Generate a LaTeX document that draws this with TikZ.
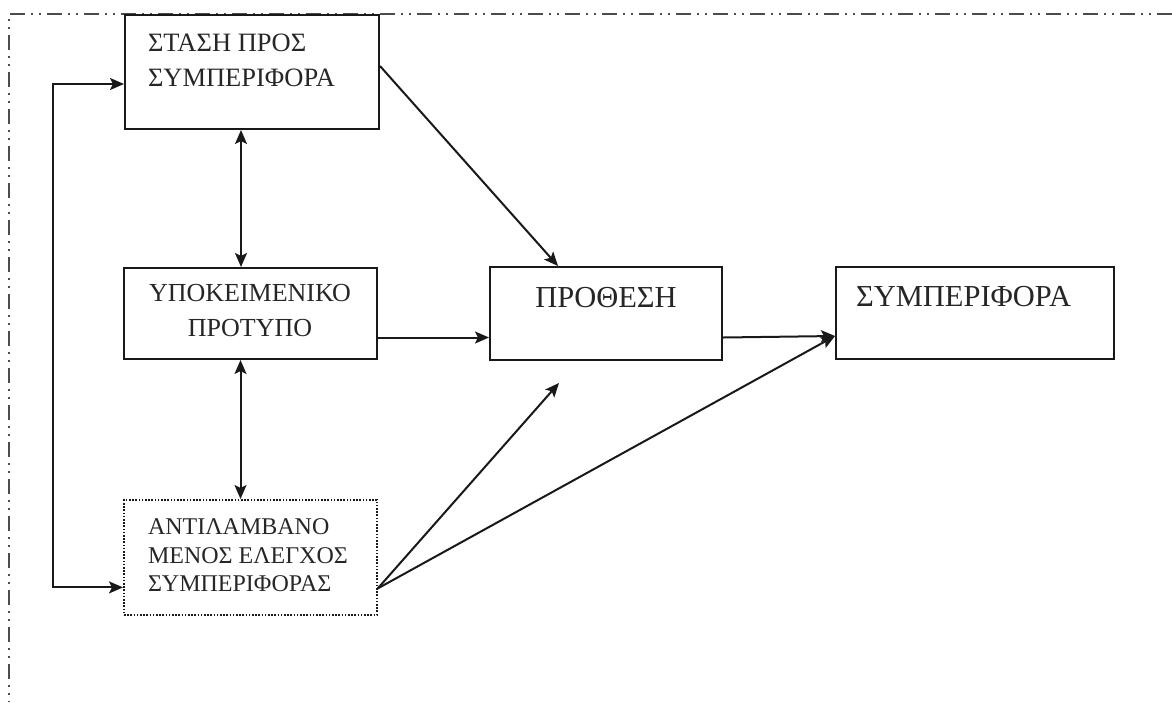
\documentclass[tikz,border=0pt]{standalone}
\usepackage{fontspec}
\setmainfont{Liberation Serif}
\usetikzlibrary{arrows.meta}

\begin{document}
\begin{tikzpicture}[x=1pt,y=-1pt,
		line width=2pt,black!90,
		>={Stealth[length=14pt,width=12pt,inset=3pt]},
		box/.style={draw,rectangle,inner sep=0pt,anchor=north west},
		lbl/.style={inner sep=0pt,text=black!85,align=left},
		frame/.style={line width=1.1pt,black!70,dash pattern=on 15pt off 6pt on 2pt off 6pt on 2pt off 6pt}
		]
			\useasboundingbox (0,0) rectangle (1172,702);
			%%%%%%%%%%%%%%%
			\draw[frame] (1172,14) -- (9,14) -- (9,702);
			%%%%%%%%%%%%%%%
			\node[box,minimum width=254pt,minimum height=114pt] (a) at (124,14){};
			\node[box,minimum width=253pt,minimum height=91pt] (b) at (123,267){};
			\node[box,minimum width=253pt,minimum height=115pt,line width=1.8pt,dash pattern=on 1.6pt off 1.6pt] (c) at (123,499){};
			\node[box,minimum width=232pt,minimum height=93pt] (d) at (489,266){};
			\node[box,minimum width=278pt,minimum height=92pt] (e) at (835,266){};
			%%%%%%%%%%%%%%%
			\node[lbl,anchor=north west,font=\fontsize{26.5}{35}\selectfont] (ta) at (147,33){ΣΤΑΣΗ ΠΡΟΣ\\ΣΥΜΠΕΡΙΦΟΡΑ};
			\node[lbl,anchor=north,align=center,font=\fontsize{26}{35}\selectfont] (tb) at (250,283){ΥΠΟΚΕΙΜΕΝΙΚΟ\\ΠΡΟΤΥΠΟ};
			\node[lbl,anchor=north west,font=\fontsize{24}{28.5}\selectfont] (tc) at (147,518){ΑΝΤΙΛΑΜΒΑΝΟ\\ΜΕΝΟΣ ΕΛΕΓΧΟΣ\\ΣΥΜΠΕΡΙΦΟΡΑΣ};
			\node[lbl,anchor=north,font=\fontsize{30.5}{36}\selectfont] (td) at (606,286){ΠΡΟΘΕΣΗ};
			\node[lbl,anchor=north west,font=\fontsize{30.5}{36}\selectfont] (te) at (855,285){ΣΥΜΠΕΡΙΦΟΡΑ};
			%%%%%%%%%%%%%%%
			\coordinate (ein) at ([yshift=-23pt]e.west);
			\coordinate (cout) at ([yshift=-31pt]c.east);
			\coordinate (p) at (559,383);
			\coordinate (l) at (53,0);
			\coordinate (fa) at ([yshift=-12pt]a.west);
			\coordinate (fc) at ([yshift=-30pt]c.west);
			%%%%%%%%%%%%%%%
			\draw[<->] ([xshift=-11pt]a.south) -- ([xshift=-11pt]a.south |- b.north);
			\draw[<->] ([xshift=-10pt]b.south) -- ([xshift=-10pt]b.south |- c.north);
			\draw[->] ([yshift=-24pt]b.east) -- ([yshift=-24pt]b.east -| d.west);
			\draw[->] ([yshift=-24pt]d.east) -- (ein);
			\draw[->] ([yshift=6pt]a.east) -- ([xshift=-48pt]d.north);
			\draw[->] (cout) -- (p);
			\draw[->] (cout) -- (ein);
			\draw[<->] (fa) -- (fa -| l) -- (fc -| l) -- (fc);
		\end{tikzpicture}
\end{document}
